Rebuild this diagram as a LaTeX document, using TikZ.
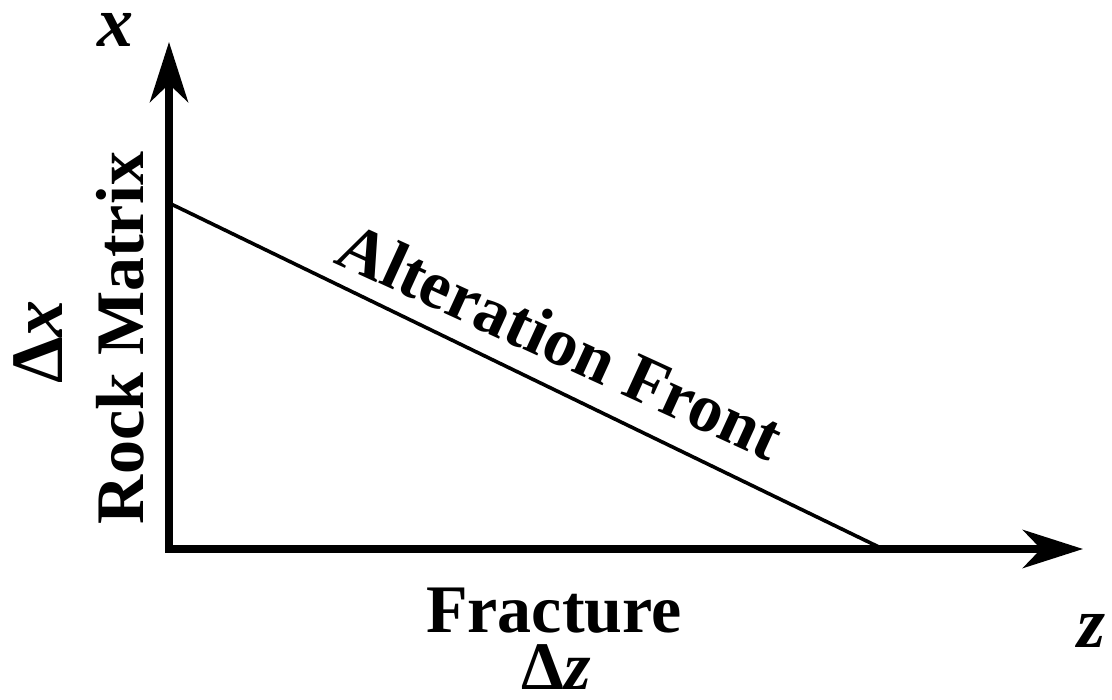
\documentclass[tikz,border=0pt]{standalone}
\usepackage{fontspec}
\setmainfont{Liberation Serif}
\usetikzlibrary{arrows.meta}

\begin{document}
\begin{tikzpicture}[x=0.5pt, y=0.5pt,
        axis/.style={line width=4pt, line join=miter,
            {Stealth[length=30pt,width=19pt,inset=9pt]}-{Stealth[length=30pt,width=19pt,inset=9pt]}},
        lab/.style={inner sep=0pt, font=\fontsize{34}{40}\selectfont\bfseries},
        var/.style={inner sep=0pt, font=\fontsize{36}{40}\selectfont\bfseries\itshape}]
        \useasboundingbox (0,0) rectangle (1112,700);

        \coordinate (o) at (169,151);
        \coordinate (xt) at (169,658);
        \coordinate (zt) at (1083,151);
        \coordinate (a) at (169,497);
        \coordinate (b) at (883,151);

        \draw[axis] (xt) -- (o) -- (zt);
        \draw[line width=1.8pt] (a) -- (b);

        \node[lab, anchor=base west, rotate=-24.6] (front) at (332,438) {Alteration Front};
        \node[lab, anchor=base, rotate=90] (rock) at (143,362) {Rock Matrix};
        \node[lab, anchor=base, rotate=90, font=\fontsize{37}{40}\selectfont\bfseries] (dx) at (63,358) {Δ\textit{x}};
        \node[lab, anchor=base] (frac) at (554,67) {Fracture};
        \node[lab, anchor=base] (dz) at (556,10) {Δ\textit{z}};
        \node[var] (xl) at (115,670) {x};
        \node[var] (zl) at (1091,69) {z};
\end{tikzpicture}
\end{document}
